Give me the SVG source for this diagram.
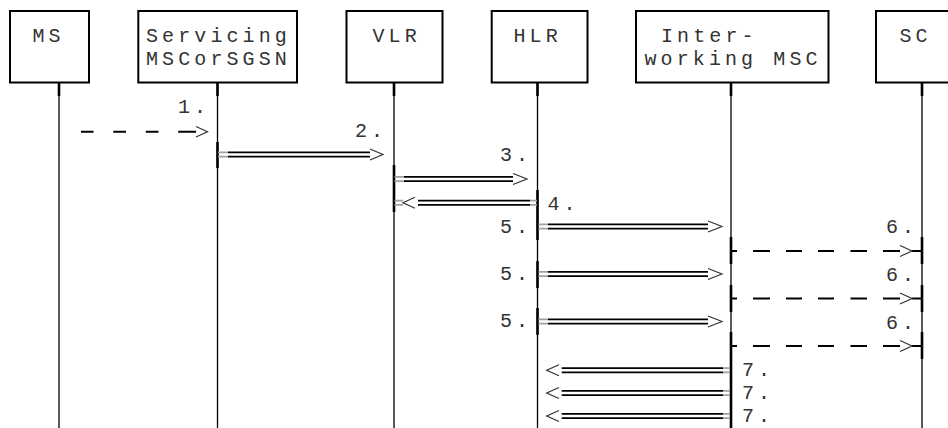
<svg xmlns="http://www.w3.org/2000/svg" width="948" height="428" viewBox="0 0 948 428">
<style>
.box{fill:#fff;stroke:#000;stroke-width:2}
.t{font-family:"Liberation Mono","DejaVu Sans Mono",monospace;font-size:20px;letter-spacing:4.1px;fill:#333}
.life{stroke:#000;stroke-width:1.3;fill:none}
.act{stroke:#000;stroke-width:2.6;fill:none}
.dl{stroke:#000;stroke-width:1.8;fill:none}
.dg{stroke:#a0a0a0;stroke-width:1.8;fill:none}
.hd{stroke:#333;stroke-width:1.2;fill:none}
.ds{stroke:#000;stroke-width:2;fill:none}
</style>
<rect width="948" height="428" fill="#fff"/>
<g id="node-ms">
<rect class="box" x="10" y="11" width="79" height="71.5"/>
<text class="t" x="32.5" y="42">MS</text>
<path class="life" d="M59 83V428"/>
<path class="act" d="M59 83V96"/>
</g>
<g id="node-servicing">
<rect class="box" x="138.3" y="11" width="158.7" height="71.5"/>
<text class="t" x="146" y="42">Servicing</text>
<text class="t" x="146" y="65">MSCorSGSN</text>
<path class="life" d="M217.5 83V428"/>
<path class="act" d="M217.5 83V96M217.5 142V168"/>
</g>
<g id="node-vlr">
<rect class="box" x="346.5" y="11" width="96" height="71.5"/>
<text class="t" x="372.5" y="42">VLR</text>
<path class="life" d="M394 83V428"/>
<path class="act" d="M394 83V96M394 165V212"/>
</g>
<g id="node-hlr">
<rect class="box" x="491.7" y="11" width="95.8" height="71.5"/>
<text class="t" x="513.5" y="42">HLR</text>
<path class="life" d="M537.5 83V428"/>
<path class="act" d="M537.5 83V96M537.5 190V240M537.5 261V288M537.5 308V335"/>
</g>
<g id="node-iwmsc">
<rect class="box" x="636" y="11" width="192.5" height="71.5"/>
<text class="t" x="661" y="42">Inter-</text>
<text class="t" x="644.5" y="65">working MSC</text>
<path class="life" d="M731 83V428"/>
<path class="act" d="M731 83V96M731 237V264M731 285V312M731 332V428"/>
</g>
<g id="node-sc">
<rect class="box" x="876" y="11" width="100" height="71.5"/>
<text class="t" x="899.5" y="42">SC</text>
<path class="life" d="M922 83V428"/>
<path class="act" d="M922 83V96M922 237V264M922 285V312M922 332V359"/>
</g>
<g id="connectors">
<path class="ds" d="M81 131.7H93.5M113.3 131.7H126M145.8 131.7H158.5M178.2 131.7H196"/>
<path class="hd" d="M196 126.5L207.5 131.7L196 137"/>
<text class="t" x="178" y="113">1.</text>
<path class="dg" d="M218 152.4H228M218 156.6H228"/>
<path class="dl" d="M228 152.4H370M228 156.6H370"/>
<path class="hd" d="M370 149L383 154.5L370 160"/>
<text class="t" x="355" y="137">2.</text>
<path class="dg" d="M394.5 176.9H404M394.5 181.1H404"/>
<path class="dl" d="M404 176.9H513M404 181.1H513"/>
<path class="hd" d="M513 173.5L527 179L513 184.5"/>
<text class="t" x="500" y="161">3.</text>
<path class="dg" d="M394.5 200.6H403M394.5 204.8H403M530 200.6H537M530 204.8H537"/>
<path class="dl" d="M418 200.6H530M418 204.8H530"/>
<path class="hd" d="M415 197.2L403 202.7L415 208.2"/>
<text class="t" x="547.5" y="210">4.</text>
<path class="dg" d="M538.5 224.4H548M538.5 228.6H548M538.5 271.9H548M538.5 276.1H548M538.5 319.4H548M538.5 323.6H548"/>
<path class="dl" d="M548 224.4H708M548 228.6H708M548 271.9H708M548 276.1H708M548 319.4H708M548 323.6H708"/>
<path class="hd" d="M708 221L722 226.5L708 232M708 268.5L722 274L708 279.5M708 316L722 321.5L708 327"/>
<text class="t" x="500" y="233">5.</text>
<text class="t" x="500" y="280">5.</text>
<text class="t" x="500" y="327">5.</text>
<path class="ds" d="M731 251H737M753 251H770M786 251H802M818 251H834M850.5 251H867M883 251H900M912 251H922"/>
<path class="ds" d="M731 298.5H737M753 298.5H770M786 298.5H802M818 298.5H834M850.5 298.5H867M883 298.5H900M912 298.5H922"/>
<path class="ds" d="M731 346H737M753 346H770M786 346H802M818 346H834M850.5 346H867M883 346H900M912 346H922"/>
<path class="hd" d="M900 245.5L912 251L900 256.5M900 293L912 298.5L900 304M900 340.5L912 346L900 351.5"/>
<text class="t" x="886" y="233">6.</text>
<text class="t" x="886" y="281">6.</text>
<text class="t" x="886" y="328.5">6.</text>
<path class="dl" d="M561.7 368.2H723M561.7 372.4H723M561.7 390.9H723M561.7 395.1H723M561.7 413.9H723M561.7 418.1H723"/>
<path class="dg" d="M723 368.2H730M723 372.4H730M723 390.9H730M723 395.1H730M723 413.9H730M723 418.1H730"/>
<path class="hd" d="M559 364.8L546.7 370.3L559 375.8M559 387.5L546.7 393L559 398.5M559 410.5L546.7 416L559 421.5"/>
<text class="t" x="742" y="376">7.</text>
<text class="t" x="742" y="399">7.</text>
<text class="t" x="742" y="422">7.</text>
</g>
</svg>
